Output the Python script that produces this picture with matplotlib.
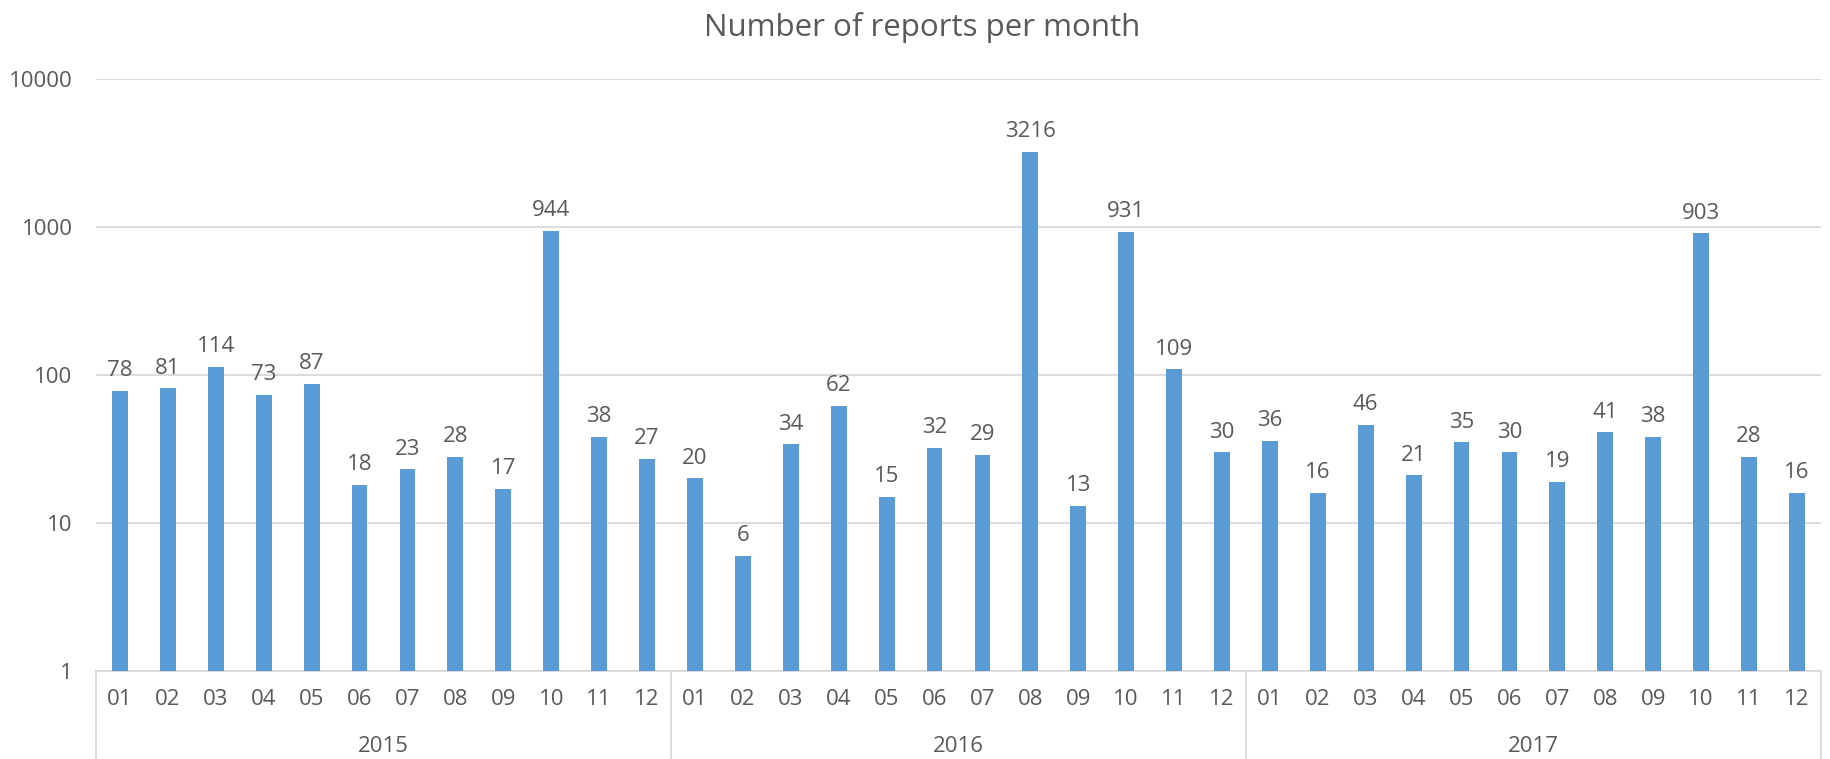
import matplotlib.pyplot as plt
import numpy as np

years = ["2015", "2016", "2017"]
months = ["01", "02", "03", "04", "05", "06", "07", "08", "09", "10", "11", "12"]
reports_2015 = [78, 81, 114, 73, 87, 18, 23, 28, 17, 944, 38, 27]
reports_2016 = [20, 6, 34, 62, 15, 32, 29, 3216, 13, 931, 109, 30]
reports_2017 = [36, 16, 46, 21, 35, 30, 19, 41, 38, 903, 28, 16]
y_ticks = [1, 10, 100, 1000, 10000]

text_color = "#595959"
grid_color = "#D9D9D9"
bar_color = "#5B9BD5"

plt.rcParams['font.family'] = ['Open Sans', 'DejaVu Sans']

values = reports_2015 + reports_2016 + reports_2017
x = np.arange(len(values))

fig = plt.figure(figsize=(18.3, 7.59), dpi=100)
ax = fig.add_axes([0.0525, 0.116, 0.9425, 0.78])

# Barras
ax.bar(x, values, width=0.33, color=bar_color, zorder=3)

# Rótulos de dados acima das barras
for xi, v in zip(x, values):
    ax.annotate(str(v), (xi, v), xytext=(0, 7), textcoords="offset points",
                ha="center", va="bottom", fontsize=16, color=text_color)

# Eixo y logarítmico
ax.set_yscale("log")
ax.set_ylim(1, 10000)
ax.set_yticks(y_ticks)
ax.set_yticklabels([str(t) for t in y_ticks])
ax.yaxis.set_minor_locator(plt.NullLocator())
ax.tick_params(axis="y", length=0, pad=17, labelsize=16, labelcolor=text_color)
ax.grid(axis="y", color=grid_color, linewidth=1.3, zorder=0)

# Eixo x com meses
ax.set_xlim(-0.5, len(values) - 0.5)
ax.set_xticks(x)
ax.set_xticklabels(months * len(years))
ax.tick_params(axis="x", length=0, pad=13, labelsize=16, labelcolor=text_color)

for side in ["left", "right", "top"]:
    ax.spines[side].set_visible(False)
ax.spines["bottom"].set_color(grid_color)
ax.spines["bottom"].set_linewidth(1.3)

# Separadores e rótulos dos anos
trans = ax.get_xaxis_transform()
for i in range(len(years) + 1):
    sx = i * len(months) - 0.5
    ax.plot([sx, sx], [0, -0.15], color=grid_color, linewidth=1.3,
            transform=trans, clip_on=False)
for i, yr in enumerate(years):
    cx = i * len(months) + (len(months) - 1) / 2
    ax.text(cx, -0.128, yr, transform=trans, ha="center", va="center",
            fontsize=16, color=text_color)

fig.text(0.504, 0.964, "Number of reports per month", ha="center", va="center",
         fontsize=22.5, color=text_color)

plt.savefig("out.png", dpi=100)
